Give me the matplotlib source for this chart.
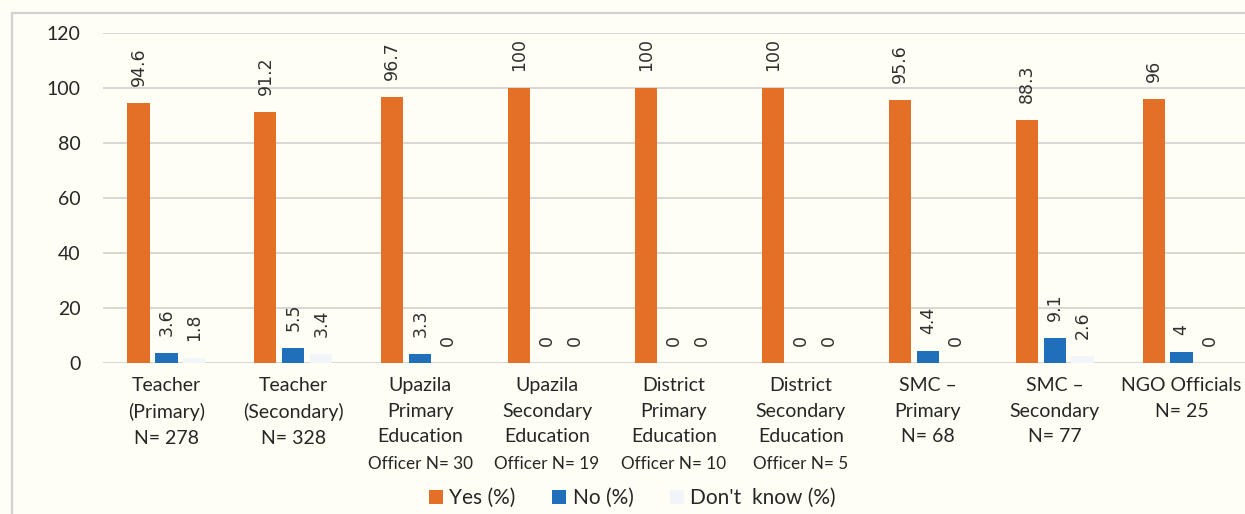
import numpy as np
import matplotlib.pyplot as plt
import matplotlib.transforms as mtransforms
from matplotlib.patches import Rectangle, Patch

# =========================================================
# Data
# =========================================================

categories = [
    "Teacher\n(Primary)\nN= 278",
    "Teacher\n(Secondary)\nN= 328",
    "Upazila\nPrimary\nEducation\nOfficer N= 30",
    "Upazila\nSecondary\nEducation\nOfficer N= 19",
    "District\nPrimary\nEducation\nOfficer N= 10",
    "District\nSecondary\nEducation\nOfficer N= 5",
    "SMC \u2013\nPrimary\nN= 68",
    "SMC \u2013\nSecondary\nN= 77",
    "NGO Officials\nN= 25",
]

yes_pct = [94.6, 91.2, 96.7, 100, 100, 100, 95.6, 88.3, 96]
no_pct = [3.6, 5.5, 3.3, 0, 0, 0, 4.4, 9.1, 4]
dont_know_pct = [1.8, 3.4, 0, 0, 0, 0, 0, 2.6, 0]

series_names = ["Yes (%)", "No (%)", "Don't  know (%)"]
colors = ["#E46F27", "#1F6FBA", "#F1F4F8"]

# =========================================================
# Figure setup
# =========================================================

bg = "#FEFEF4"
plt.rcParams['font.family'] = ['Lato', 'DejaVu Sans']

fig = plt.figure(figsize=(12.45, 5.14), dpi=100, facecolor=bg)
ax = fig.add_axes([0.0827, 0.2938, 0.9173, 0.6420], facecolor=bg)

# outer frame of the chart box
fig.patches.append(Rectangle((12 / 1245, -0.1), 1.2, (501 / 514) + 0.1,
                             transform=fig.transFigure, fill=False,
                             edgecolor="#D2D2D2", linewidth=1.6))

x = np.arange(len(categories))
width = 0.175
step = 0.22

all_series = [yes_pct, no_pct, dont_know_pct]

for i, (vals, col, name) in enumerate(zip(all_series, colors, series_names)):
    pos = x + (i - 1) * step
    ax.bar(pos, vals, width=width, color=col, label=name, zorder=3)
    for px, v in zip(pos, vals):
        ax.annotate(f"{v:g}", (px, v), xytext=(0, 12.2),
                    textcoords='offset points', rotation=90,
                    ha='center', va='bottom', fontsize=12.5,
                    family='DejaVu Sans', color='#303030')

# =========================================================
# Axes styling
# =========================================================

ax.set_ylim(0, 120)
ax.set_xlim(-0.5, len(categories) - 0.5)
ax.set_yticks(np.arange(0, 121, 20))
ax.set_xticks(x)

# the fourth label line ("Officer N= ..") is drawn a bit smaller
main_lines = ["\n".join(c.split("\n")[:3]) for c in categories]
ax.set_xticklabels(main_lines, fontsize=14, color='#262626',
                   linespacing=1.62, va='top')
trans = mtransforms.blended_transform_factory(ax.transData, fig.transFigure)
for xi, c in zip(x, categories):
    parts = c.split("\n")
    if len(parts) > 3:
        ax.text(xi, 1 - 464 / 514, parts[3], transform=trans, ha='center',
                va='center', fontsize=12.3, color='#262626')

ax.tick_params(axis='y', length=0, pad=16, labelsize=14, labelcolor='#262626')
ax.tick_params(axis='x', length=0, pad=10)

ax.grid(axis='y', color='#D6D6D6', linewidth=1.4, zorder=0)
for s in ax.spines.values():
    s.set_visible(False)

# legend at bottom
handles = [Patch(facecolor=c, edgecolor='none') for c in colors]
fig.legend(handles, series_names, loc='center', bbox_to_anchor=(0.508, 0.031),
           ncol=3, frameon=False, fontsize=15, handlelength=0.68,
           handleheight=0.68, handletextpad=0.3, columnspacing=1.75,
           labelcolor='#262626')

plt.savefig("out.png", dpi=100, facecolor=bg)
